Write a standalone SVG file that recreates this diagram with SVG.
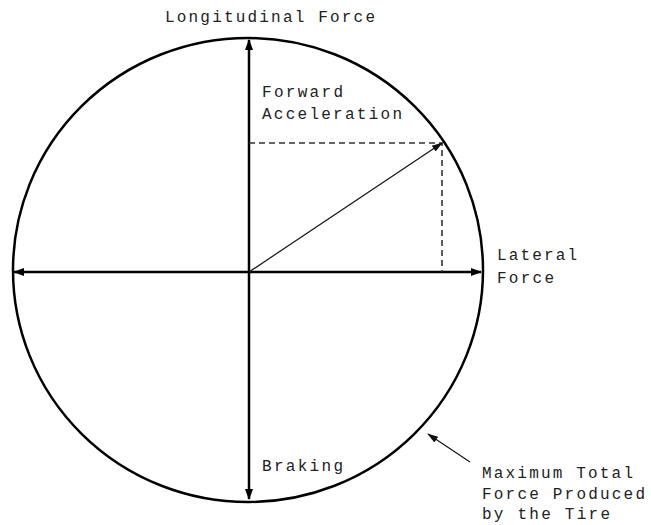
<svg xmlns="http://www.w3.org/2000/svg" width="651" height="525" viewBox="0 0 651 525">
<style>
text{font-family:"Liberation Mono","Courier New",monospace;font-size:16px;fill:#222}
.ax{stroke:#000;stroke-width:2.5;fill:none}
.thin{stroke:#111;stroke-width:1.2;fill:none}
.dash{stroke:#333;stroke-width:1.6;stroke-dasharray:6 4;fill:none}
</style>
<defs>
<marker id="ah" markerUnits="userSpaceOnUse" markerWidth="12" markerHeight="10" refX="10" refY="5" orient="auto-start-reverse" viewBox="0 0 12 10">
<path d="M0,1 L11,5 L0,9 Z" fill="#000"/>
</marker>
<marker id="ahs" markerUnits="userSpaceOnUse" markerWidth="12" markerHeight="10" refX="10" refY="5" orient="auto" viewBox="0 0 12 10">
<path d="M0,1.5 L11,5 L0,8.5 Z" fill="#111"/>
</marker>
</defs>
<rect width="651" height="525" fill="#fff"/>
<g id="circle">
<ellipse cx="248" cy="270" rx="235" ry="232" class="ax"/>
</g>
<g id="connectors">
<line x1="249" y1="40" x2="249" y2="499" class="ax" marker-start="url(#ah)" marker-end="url(#ah)"/>
<line x1="14" y1="272" x2="481" y2="272" class="ax" marker-start="url(#ah)" marker-end="url(#ah)"/>
<polyline points="249,143 442,143 442,272" class="dash"/>
<line x1="249" y1="272" x2="442" y2="143" class="thin" marker-end="url(#ahs)"/>
<line x1="470" y1="462" x2="428" y2="434" class="thin" marker-end="url(#ahs)"/>
</g>
<g id="labels">
<text x="165" y="22" textLength="210" lengthAdjust="spacing">Longitudinal Force</text>
<text x="262" y="97" textLength="81" lengthAdjust="spacing">Forward</text>
<text x="262" y="119" textLength="140" lengthAdjust="spacing">Acceleration</text>
<text x="497" y="260" textLength="80" lengthAdjust="spacing">Lateral</text>
<text x="497" y="283" textLength="57" lengthAdjust="spacing">Force</text>
<text x="262" y="471" textLength="81" lengthAdjust="spacing">Braking</text>
<text x="482" y="478" textLength="151" lengthAdjust="spacing">Maximum Total</text>
<text x="482" y="499" textLength="163" lengthAdjust="spacing">Force Produced</text>
<text x="482" y="519" textLength="128" lengthAdjust="spacing">by the Tire</text>
</g>
</svg>
